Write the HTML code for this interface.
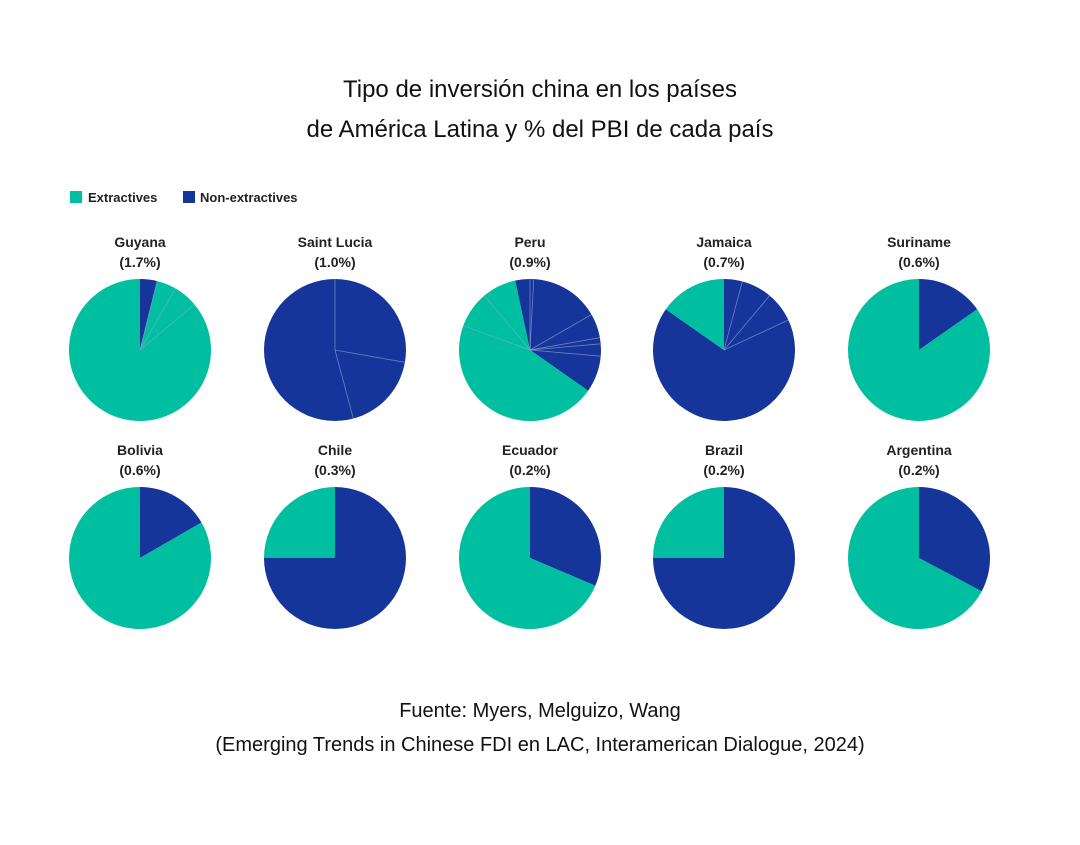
<!DOCTYPE html>
<html><head><meta charset="utf-8"><style>
body{margin:0;background:#fff;width:1080px;height:840px;overflow:hidden}
</style></head><body>
<svg width="1080" height="840" xmlns="http://www.w3.org/2000/svg" font-family="Liberation Sans, sans-serif">
<rect width="1080" height="840" fill="#fff"/>
<text x="540" y="97" font-size="24" text-anchor="middle" fill="#111">Tipo de inversión china en los países</text>
<text x="540" y="137" font-size="24" text-anchor="middle" fill="#111">de América Latina y % del PBI de cada país</text>
<rect x="70" y="191" width="12" height="12" fill="#00bfa0"/>
<text x="88" y="202" font-size="13" font-weight="bold" fill="#222">Extractives</text>
<rect x="183" y="191" width="12" height="12" fill="#16359a"/>
<text x="200" y="202" font-size="13" font-weight="bold" fill="#222">Non-extractives</text>
<g font-size="14" font-weight="bold" fill="#222" text-anchor="middle">
<text x="140" y="247">Guyana</text><text x="140" y="267">(1.7%)</text>
<text x="335" y="247">Saint Lucia</text><text x="335" y="267">(1.0%)</text>
<text x="530" y="247">Peru</text><text x="530" y="267">(0.9%)</text>
<text x="724" y="247">Jamaica</text><text x="724" y="267">(0.7%)</text>
<text x="919" y="247">Suriname</text><text x="919" y="267">(0.6%)</text>
<text x="140" y="455">Bolivia</text><text x="140" y="475">(0.6%)</text>
<text x="335" y="455">Chile</text><text x="335" y="475">(0.3%)</text>
<text x="530" y="455">Ecuador</text><text x="530" y="475">(0.2%)</text>
<text x="724" y="455">Brazil</text><text x="724" y="475">(0.2%)</text>
<text x="919" y="455">Argentina</text><text x="919" y="475">(0.2%)</text>
</g>
<g id="pies"></g>
<text x="540" y="717" font-size="20" text-anchor="middle" fill="#111">Fuente: Myers, Melguizo, Wang</text>
<text x="540" y="751" font-size="20" text-anchor="middle" fill="#111">(Emerging Trends in Chinese FDI en LAC, Interamerican Dialogue, 2024)</text>
</svg>
<script>
const T="#00bfa0",N="#16359a",r=71;
const pies=[
[140,350,[[0,14,N],[14,360,T]],[14,30,50]],
[335,350,[[0,360,N]],[0,100,165]],
[530,350,[[0,125,N],[125,348,T],[348,360,N]],[60,80,85,95,290,320,0,3]],
[724,350,[[0,305,N],[305,360,T]],[15,40,65]],
[919,350,[[0,55,N],[55,360,T]],[]],
[140,558,[[0,60,N],[60,360,T]],[]],
[335,558,[[0,270,N],[270,360,T]],[]],
[530,558,[[0,113,N],[113,360,T]],[]],
[724,558,[[0,270,N],[270,360,T]],[]],
[919,558,[[0,118,N],[118,360,T]],[]]];
let s="";
function pt(cx,cy,a){a=a*Math.PI/180;return [cx+r*Math.sin(a),cy-r*Math.cos(a)];}
for(const [cx,cy,sl,ln] of pies){
 for(const [a,b,c] of sl){
  if(b-a>=360){s+=`<circle cx="${cx}" cy="${cy}" r="${r}" fill="${c}"/>`;continue;}
  const p=pt(cx,cy,a),q=pt(cx,cy,b);
  s+=`<path d="M${cx},${cy}L${p[0]},${p[1]}A${r},${r} 0 ${b-a>180?1:0} 1 ${q[0]},${q[1]}Z" fill="${c}"/>`;
 }
 for(const a of ln){const p=pt(cx,cy,a);s+=`<line x1="${cx}" y1="${cy}" x2="${p[0]}" y2="${p[1]}" stroke="#8fa3d8" stroke-width="0.8" opacity="0.7"/>`;}
}
document.getElementById("pies").innerHTML=s;
</script>
</body></html>
